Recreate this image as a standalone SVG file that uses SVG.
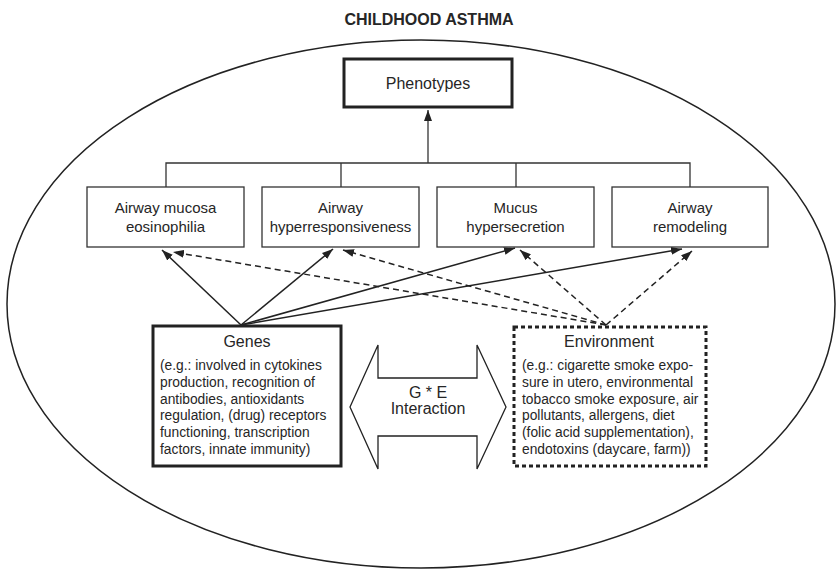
<svg xmlns="http://www.w3.org/2000/svg" width="838" height="570" viewBox="0 0 838 570">
<style>
text{font-family:"Liberation Sans",Arial,sans-serif;fill:#262626}
.title{font-size:16px;font-weight:bold;text-anchor:middle}
.lbl{font-size:15px;text-anchor:middle}
.hd{font-size:16px;text-anchor:middle}
.body{font-size:13.8px}
.box{fill:#fff;stroke:#333;stroke-width:1.3}
.thick{fill:#fff;stroke:#222;stroke-width:3}
.dotted{fill:#fff;stroke:#222;stroke-width:3;stroke-dasharray:4 3}
.line{fill:none;stroke:#333;stroke-width:1.3}
.solid{fill:none;stroke:#222;stroke-width:1.5;marker-end:url(#ah)}
.dash{fill:none;stroke:#222;stroke-width:1.5;stroke-dasharray:6 4;marker-end:url(#ah)}
</style>
<defs>
<marker id="ah" markerUnits="userSpaceOnUse" markerWidth="11" markerHeight="8" refX="11" refY="4" orient="auto">
<path d="M0,0 L11,4 L0,8 z" fill="#222"/>
</marker>
</defs>
<rect width="838" height="570" fill="#fff"/>
<text class="title" x="429" y="25">CHILDHOOD ASTHMA</text>
<ellipse cx="421" cy="304" rx="414" ry="264" fill="none" stroke="#222" stroke-width="1.5"/>

<g id="connectors">
<path class="line" d="M166,187 V163 H690 V187 M341,163 V187 M516,163 V187"/>
<path class="line" d="M428,163 V110" marker-end="url(#ah)"/>
<line class="solid" x1="241" y1="325" x2="162" y2="250"/>
<line class="solid" x1="241" y1="325" x2="333" y2="249"/>
<line class="solid" x1="241" y1="325" x2="515" y2="248"/>
<line class="solid" x1="241" y1="325" x2="682" y2="249"/>
<line class="dash" x1="606" y1="325" x2="173" y2="252"/>
<line class="dash" x1="606" y1="325" x2="343" y2="250"/>
<line class="dash" x1="606" y1="325" x2="520" y2="250"/>
<line class="dash" x1="606" y1="325" x2="692" y2="251"/>
</g>

<g id="phenotypes">
<rect class="thick" x="344" y="59" width="168" height="48" stroke-width="2.5"/>
<text class="hd" x="428" y="89">Phenotypes</text>
</g>

<g id="eosinophilia">
<rect class="box" x="87" y="187" width="157" height="60"/>
<text class="lbl" x="165.5" y="213">Airway mucosa</text>
<text class="lbl" x="165.5" y="232">eosinophilia</text>
</g>
<g id="hyperresponsiveness">
<rect class="box" x="262" y="187" width="157" height="60"/>
<text class="lbl" x="340.5" y="213">Airway</text>
<text class="lbl" x="340.5" y="232">hyperresponsiveness</text>
</g>
<g id="hypersecretion">
<rect class="box" x="437" y="187" width="157" height="60"/>
<text class="lbl" x="515.5" y="213">Mucus</text>
<text class="lbl" x="515.5" y="232">hypersecretion</text>
</g>
<g id="remodeling">
<rect class="box" x="612" y="187" width="156" height="60"/>
<text class="lbl" x="690" y="213">Airway</text>
<text class="lbl" x="690" y="232">remodeling</text>
</g>

<g id="genes">
<rect class="thick" x="153" y="326" width="188" height="140"/>
<text class="hd" x="247" y="347">Genes</text>
<text class="body" x="160" y="370">(e.g.: involved in cytokines</text>
<text class="body" x="160" y="387">production, recognition of</text>
<text class="body" x="160" y="404">antibodies, antioxidants</text>
<text class="body" x="160" y="420">regulation, (drug) receptors</text>
<text class="body" x="160" y="437">functioning, transcription</text>
<text class="body" x="160" y="454">factors, innate immunity)</text>
</g>

<g id="interaction">
<polygon points="350,407 378,345 378,378 477,378 477,345 506,407 477,469 477,436 378,436 378,469" fill="#fff" stroke="#222" stroke-width="1.3"/>
<text class="hd" x="428" y="398">G * E</text>
<text class="hd" x="428" y="414">Interaction</text>
</g>

<g id="environment">
<rect class="dotted" x="514" y="327" width="192" height="139"/>
<text class="hd" x="609" y="347">Environment</text>
<text class="body" x="522" y="370">(e.g.: cigarette smoke expo-</text>
<text class="body" x="522" y="387">sure in utero, environmental</text>
<text class="body" x="522" y="404">tobacco smoke exposure, air</text>
<text class="body" x="522" y="420">pollutants, allergens, diet</text>
<text class="body" x="522" y="437">(folic acid supplementation),</text>
<text class="body" x="522" y="454">endotoxins (daycare, farm))</text>
</g>
</svg>
